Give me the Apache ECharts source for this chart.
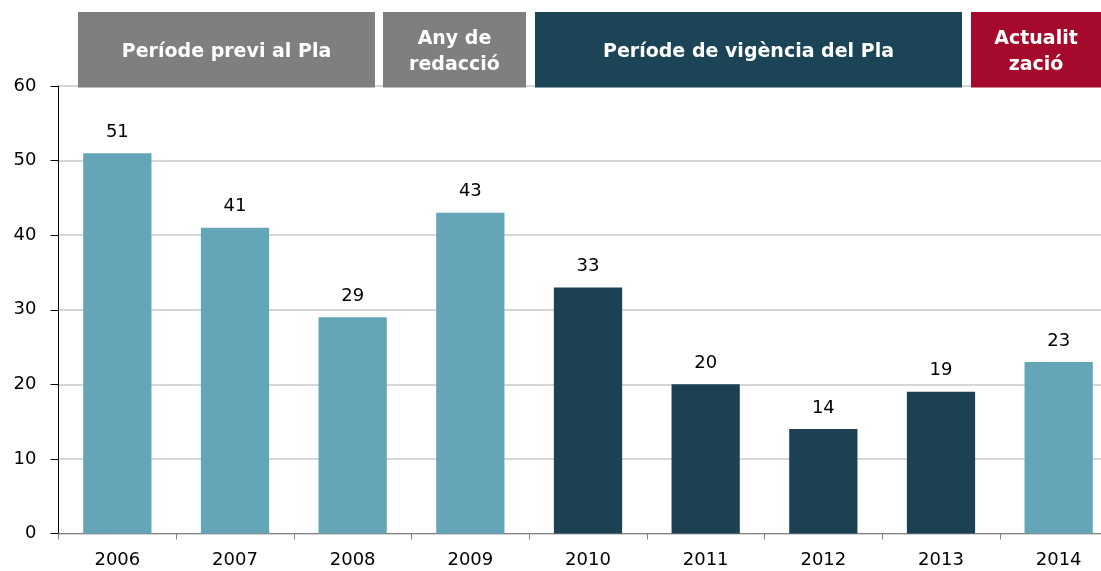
<!DOCTYPE html>
<html>
<head>
<meta charset="utf-8">
<script src="https://cdn.jsdelivr.net/npm/echarts@6/dist/echarts.min.js"></script>
<style>
html,body{margin:0;padding:0;background:#fff;}
#chart{width:1101px;height:571px;}
</style>
</head>
<body>
<div id="chart"></div>
<script>
const years = ['2006','2007','2008','2009','2010','2011','2012','2013','2014'];
const values = [51, 41, 29, 43, 33, 20, 14, 19, 23];
const periods = ['previ','previ','previ','redaccio','vigencia','vigencia','vigencia','vigencia','actualitzacio'];
const yTicks = [0, 10, 20, 30, 40, 50, 60];
const headerTexts = ['Període previ al Pla', 'Any de\nredacció', 'Període de vigència del Pla', 'Actualit\nzació'];

const FONT = '"DejaVu Sans", Verdana, sans-serif';
const periodColor = {previ:'#64A5B8', redaccio:'#64A5B8', vigencia:'#1B4152', actualitzacio:'#64A5B8'};
const headerColors = ['#7F7F7F', '#7F7F7F', '#1B4556', '#A50A2C'];
const headerBoxes = [[78, 375], [383, 526], [535, 962], [971, 1101]];

const chart = echarts.init(document.getElementById('chart'));
const graphics = headerTexts.map((t, i) => ({
  type: 'group',
  z: 100,
  children: [
    {type:'rect', shape:{x:headerBoxes[i][0], y:12, width:headerBoxes[i][1]-headerBoxes[i][0], height:75.5},
     style:{fill:headerColors[i]}, z:100},
    {type:'text', x:(headerBoxes[i][0]+headerBoxes[i][1])/2, y:52, z:101,
     style:{text:t, fill:'#fff', font:'bold 19px ' + FONT, align:'center', verticalAlign:'middle', lineHeight:26}}
  ]
}));

chart.setOption({
  animation: false,
  grid: {left: 58.5, top: 86, width: 1059, height: 447.5, containLabel: false, outerBoundsMode: 'none'},
  xAxis: {
    type: 'category',
    data: years,
    boundaryGap: true,
    axisLine: {lineStyle: {color: '#808080', width: 1}},
    axisTick: {show: true, length: 6, lineStyle: {color: '#808080'}},
    axisLabel: {color: '#000', fontSize: 18, fontFamily: FONT, margin: 18}
  },
  yAxis: {
    type: 'value',
    min: yTicks[0], max: yTicks[yTicks.length-1], interval: 10,
    axisLine: {show: true, lineStyle: {color: '#000', width: 1}},
    axisTick: {show: true, length: 8, lineStyle: {color: '#000'}},
    axisLabel: {color: '#000', fontSize: 18, fontFamily: FONT, margin: 22},
    splitLine: {show: true, lineStyle: {color: '#D6D6D6', width: 2}}
  },
  series: [{
    type: 'bar',
    data: values.map((v, i) => ({value: v, itemStyle: {color: periodColor[periods[i]]}})),
    barWidth: '58%',
    label: {show: true, position: 'top', distance: 12, color: '#000', fontSize: 18, fontFamily: FONT}
  }],
  graphic: graphics
});
</script>
</body>
</html>
